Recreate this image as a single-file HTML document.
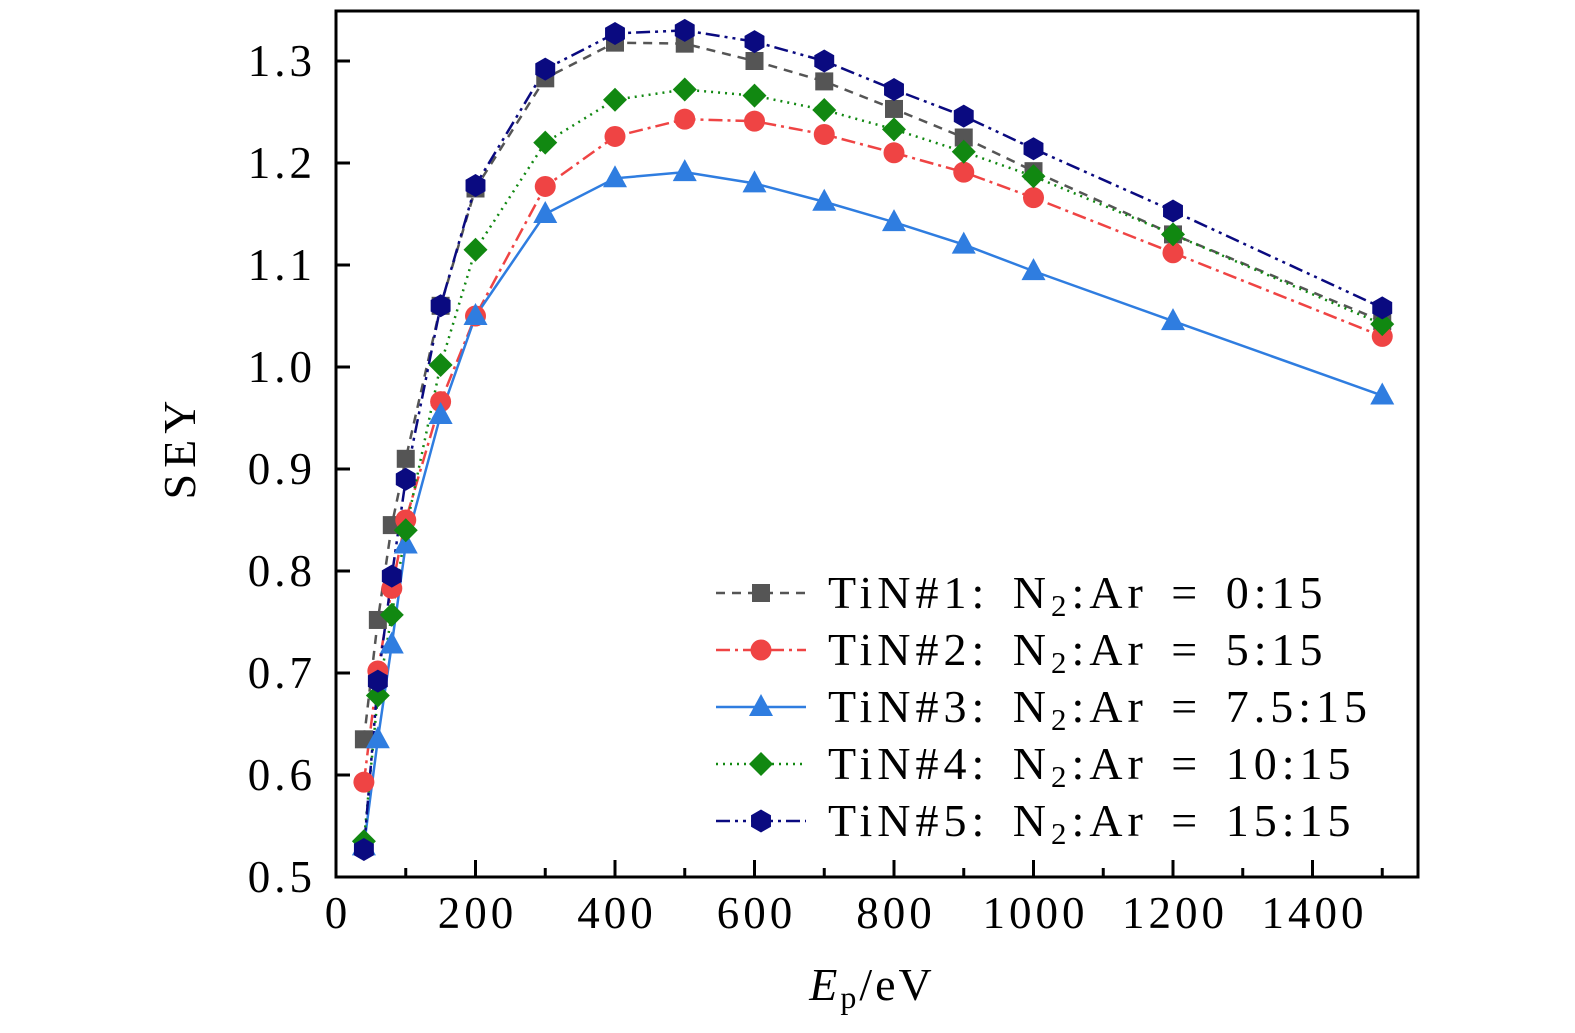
<!DOCTYPE html>
<html><head><meta charset="utf-8"><style>
html,body{margin:0;padding:0;background:#fff;}
svg{display:block;font-family:"Liberation Serif",serif;}
</style></head><body>
<svg id="s" width="1575" height="1033" xmlns="http://www.w3.org/2000/svg"></svg>
<script>
const s=document.getElementById('s');
const X=v=>336+v*0.6975, Y=v=>877-(v-0.5)*1020;
let h='';
const F='font-size="45" letter-spacing="4"';
h+='<rect x="336" y="11" width="1082" height="866" fill="none" stroke="#000" stroke-width="3"/>';
for(let v=0;v<=1500;v+=100){const x=X(v),L=v%200==0?17:9;h+=`<line x1="${x}" y1="877" x2="${x}" y2="${877-L}" stroke="#000" stroke-width="3"/>`;
 if(v%200==0&&v<=1400)h+=`<text x="${x+2}" y="928" ${F} text-anchor="middle">${v}</text>`;}
for(let i=0;i<=8;i++){const v=0.5+i*0.1,y=Y(v);h+=`<line x1="336" y1="${y}" x2="350" y2="${y}" stroke="#000" stroke-width="3"/>`;
 h+=`<text x="316" y="${y+15}" ${F} text-anchor="end">${v.toFixed(1)}</text>`;}
h+='<text transform="translate(195,447) rotate(-90)" font-size="46" letter-spacing="6" text-anchor="middle">SEY</text>';
h+='<text x="872" y="1000" font-size="46" letter-spacing="3" text-anchor="middle"><tspan font-style="italic">E</tspan><tspan font-size="32" dy="8">p</tspan><tspan dy="-8">/eV</tspan></text>';
const xs=[40,60,80,100,150,200,300,400,500,600,700,800,900,1000,1200,1500];
const S=[
{c:'#555',d:'9,7',m:'sq',y:[0.635,0.752,0.845,0.910,1.060,1.175,1.283,1.318,1.317,1.300,1.280,1.253,1.225,1.192,1.130,1.045]},
{c:'#ef4444',d:'14,5,3,5',m:'ci',y:[0.593,0.702,0.783,0.85,0.966,1.050,1.177,1.226,1.243,1.241,1.228,1.210,1.191,1.166,1.112,1.030]},
{c:'#2f7de0',d:'',m:'tr',y:[0.53,0.635,0.728,0.826,0.953,1.050,1.150,1.185,1.191,1.180,1.162,1.142,1.120,1.094,1.045,0.972]},
{c:'#118811',d:'2,5',m:'di',y:[0.535,0.678,0.757,0.840,1.002,1.115,1.220,1.262,1.272,1.266,1.252,1.233,1.211,1.187,1.130,1.042]},
{c:'#0a0a80',d:'14,5,3,5,3,5',m:'hx',y:[0.527,0.692,0.795,0.890,1.060,1.178,1.292,1.327,1.330,1.319,1.300,1.272,1.246,1.214,1.153,1.058]}];
function mk(m,x,y,c){
 if(m=='sq')return `<rect x="${x-9}" y="${y-9}" width="18" height="18" fill="${c}"/>`;
 if(m=='ci')return `<circle cx="${x}" cy="${y}" r="10.5" fill="${c}"/>`;
 if(m=='tr')return `<polygon points="${x},${y-13} ${x+12},${y+9} ${x-12},${y+9}" fill="${c}"/>`;
 if(m=='di')return `<polygon points="${x},${y-12} ${x+12},${y} ${x},${y+12} ${x-12},${y}" fill="${c}"/>`;
 let p=[];for(let k=0;k<6;k++){const a=Math.PI/3*k-Math.PI/2;p.push((x+11.5*Math.cos(a))+','+(y+11.5*Math.sin(a)));}
 return `<polygon points="${p.join(' ')}" fill="${c}"/>`;}
S.forEach(o=>{h+=`<polyline fill="none" stroke="${o.c}" stroke-width="2.5" ${o.d?'stroke-dasharray="'+o.d+'"':''} points="${xs.map((x,i)=>X(x)+','+Y(o.y[i])).join(' ')}"/>`;});
S.forEach(o=>{xs.forEach((x,i)=>h+=mk(o.m,X(x),Y(o.y[i]),o.c));});
const lab=['0:15','5:15','7.5:15','10:15','15:15'];
S.forEach((o,i)=>{const y=593+i*57;
 h+=`<line x1="716" y1="${y}" x2="806" y2="${y}" stroke="${o.c}" stroke-width="2.5" ${o.d?'stroke-dasharray="'+o.d+'"':''}/>`;
 h+=mk(o.m,761,y,o.c);
 h+=`<text x="828" y="${y+15}" font-size="46" letter-spacing="5" word-spacing="7">TiN#${i+1}: N<tspan font-size="31" dy="8">2</tspan><tspan dy="-8">:Ar = ${lab[i]}</tspan></text>`;});
s.innerHTML=h;
</script>
</body></html>
